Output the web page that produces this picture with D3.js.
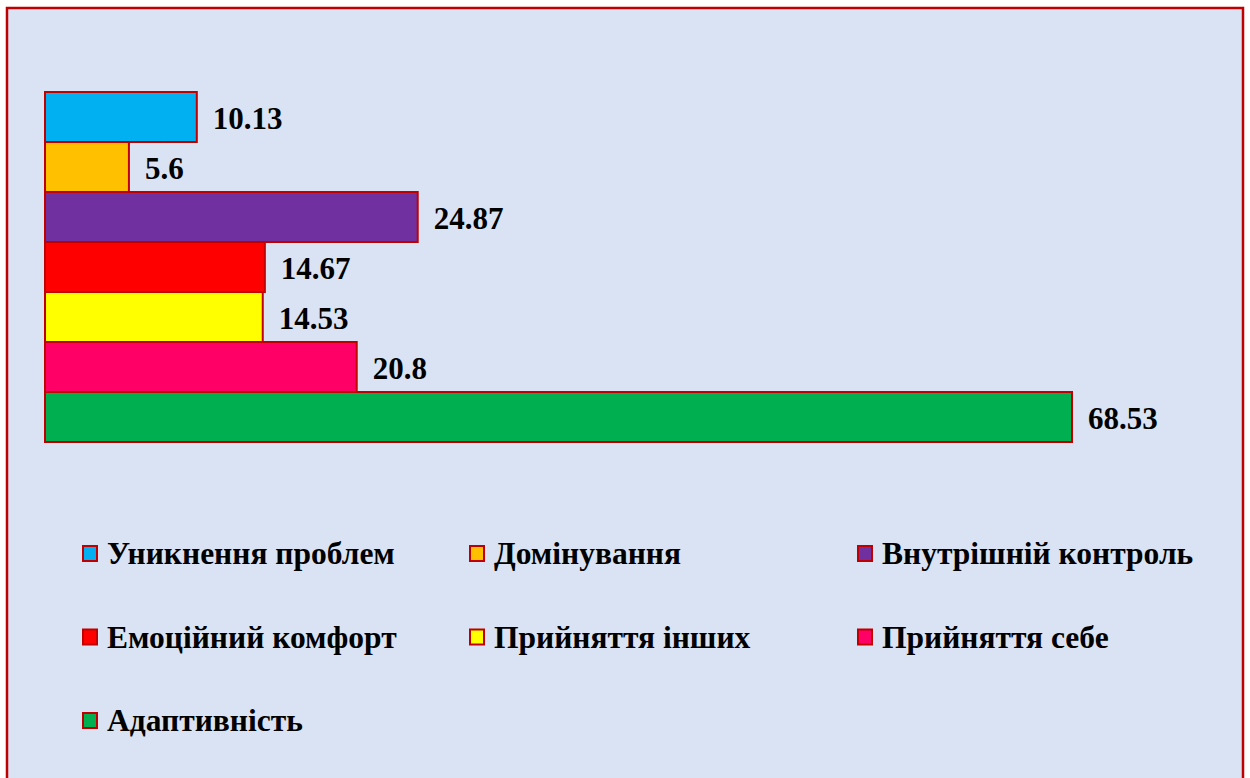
<!DOCTYPE html>
<html>
<head>
<meta charset="utf-8">
<style>
  body { margin: 0; background: #fff; }
  svg { display: block; }
</style>
</head>
<body>
<svg width="1250" height="778"></svg>
<script src="https://d3js.org/d3.v7.min.js"></script>
<script>
  var categories = ["Уникнення проблем", "Домінування", "Внутрішній контроль",
                    "Емоційний комфорт", "Прийняття інших", "Прийняття себе", "Адаптивність"];
  var values = [10.13, 5.6, 24.87, 14.67, 14.53, 20.8, 68.53];
  var colors = ["#00B0F0", "#FFC000", "#7030A0", "#FF0000", "#FFFF00", "#FF0066", "#00B050"];

  var svg = d3.select("svg");
  var font = "'Liberation Serif', 'Times New Roman', serif";
  var edge = "#C00000";

  // frame
  svg.append("rect")
      .attr("x", 7).attr("y", 8)
      .attr("width", 1236).attr("height", 790)
      .attr("fill", "#DAE3F3")
      .attr("stroke", edge)
      .attr("stroke-width", 2.5);

  var x = d3.scaleLinear().domain([0, 68.53]).range([45, 1072]);
  var y = d3.scaleBand().domain(categories).range([92, 442]).padding(0);

  var data = categories.map(function(c, i) {
    return { name: c, value: values[i], color: colors[i] };
  });

  var g = svg.append("g");

  g.selectAll("rect.bar")
      .data(data)
      .enter().append("rect")
      .attr("class", "bar")
      .attr("x", x(0))
      .attr("y", function(d) { return y(d.name); })
      .attr("width", function(d) { return x(d.value) - x(0); })
      .attr("height", y.bandwidth())
      .attr("fill", function(d) { return d.color; })
      .attr("stroke", edge)
      .attr("stroke-width", 2);

  g.selectAll("text.val")
      .data(data)
      .enter().append("text")
      .attr("class", "val")
      .attr("x", function(d) { return x(d.value) + 16; })
      .attr("y", function(d) { return y(d.name) + y.bandwidth() / 2 + 12; })
      .attr("font-family", font)
      .attr("font-weight", "bold")
      .attr("font-size", 31)
      .attr("fill", "#000")
      .text(function(d) { return d.value; });

  // legend, 3 columns
  var colX = [82, 469, 857];
  var rowY = [545, 628.5, 712];

  var leg = svg.selectAll("g.leg")
      .data(data)
      .enter().append("g")
      .attr("class", "leg")
      .attr("transform", function(d, i) {
        return "translate(" + colX[i % 3] + "," + rowY[Math.floor(i / 3)] + ")";
      });

  leg.append("rect")
      .attr("x", 1).attr("y", 1)
      .attr("width", 14).attr("height", 15)
      .attr("fill", function(d) { return d.color; })
      .attr("stroke", edge)
      .attr("stroke-width", 2);

  leg.append("text")
      .attr("x", 25)
      .attr("y", 19)
      .attr("font-family", font)
      .attr("font-weight", "bold")
      .attr("font-size", 31.5)
      .attr("fill", "#000")
      .text(function(d) { return d.name; });
</script>
</body>
</html>
